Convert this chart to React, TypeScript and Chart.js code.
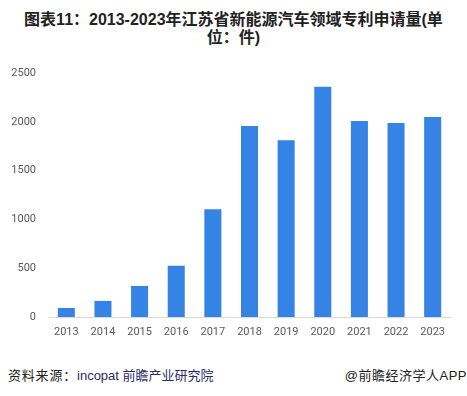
import React, { useEffect, useRef } from "react";
import { Chart, registerables } from "chart.js";

Chart.register(...registerables);

const years = ["2013", "2014", "2015", "2016", "2017", "2018", "2019", "2020", "2021", "2022", "2023"];
const patents = [92, 165, 318, 525, 1105, 1957, 1812, 2360, 2008, 1988, 2050];
const yMax = 2500;
const yStep = 500;

const titleLine1 = "图表11：2013-2023年江苏省新能源汽车领域专利申请量(单";
const titleLine2 = "位：件)";
const sourceLabel = "资料来源：";
const sourceText = "incopat 前瞻产业研究院";
const credit = "@前瞻经济学人APP";

const BAR = "#3683e6";
const TICK = "#595959";
const tickFont = { family: "Roboto, 'Liberation Sans', sans-serif", size: 11 };

export default function App() {
  const ref = useRef<HTMLCanvasElement | null>(null);

  useEffect(() => {
    if (!ref.current) return;
    const chart = new Chart(ref.current, {
      type: "bar",
      data: {
        labels: years,
        datasets: [
          {
            data: patents,
            backgroundColor: BAR,
            borderWidth: 0,
            barPercentage: 0.465,
            categoryPercentage: 1,
          },
        ],
      },
      options: {
        animation: false,
        responsive: false,
        devicePixelRatio: 1,
        layout: { padding: { top: 13, right: 16, left: 0, bottom: 0 } },
        plugins: { legend: { display: false }, tooltip: { enabled: false }, title: { display: false } },
        scales: {
          x: {
            grid: { display: false, drawTicks: false },
            border: { display: true, color: "#d9d9d9", width: 1 },
            ticks: { color: TICK, font: tickFont, padding: 9, maxRotation: 0, autoSkip: false },
            afterFit: (s: any) => {
              s.height = 33;
            },
          },
          y: {
            min: 0,
            max: yMax,
            grid: { display: false, drawTicks: false },
            border: { display: false },
            ticks: {
              stepSize: yStep,
              color: TICK,
              font: tickFont,
              padding: 12,
              callback: (v: any) => String(v),
            },
            afterFit: (s: any) => {
              s.width = 48;
              s.paddingTop = 0;
              s.paddingBottom = 0;
            },
          },
        },
      },
    });
    return () => chart.destroy();
  }, []);

  return (
    <div
      style={{
        position: "absolute",
        left: 0,
        top: 0,
        width: 467,
        height: 396,
        background: "#fff",
        overflow: "hidden",
        fontFamily: "'Liberation Sans', 'Noto Sans CJK SC', sans-serif",
      }}
    >
      <div
        style={{
          position: "absolute",
          top: 11,
          left: 0,
          width: 467,
          textAlign: "center",
          fontWeight: "bold",
          fontSize: 16,
          lineHeight: "17.5px",
          color: "#222",
          whiteSpace: "nowrap",
        }}
      >
        {titleLine1}
        <br />
        {titleLine2}
      </div>
      <canvas ref={ref} width={467} height={290} style={{ position: "absolute", left: 0, top: 60 }} />
      <div
        style={{
          position: "absolute",
          left: 8,
          top: 367,
          fontSize: 13,
          lineHeight: "18px",
          color: "#222",
          letterSpacing: 0.8,
          whiteSpace: "nowrap",
        }}
      >
        {sourceLabel}
        <span style={{ color: "#2a2a66", letterSpacing: 0 }}>{sourceText}</span>
      </div>
      <div
        style={{
          position: "absolute",
          right: 0,
          top: 367,
          fontSize: 13,
          lineHeight: "18px",
          color: "#222",
          letterSpacing: 0.5,
          whiteSpace: "nowrap",
        }}
      >
        {credit}
      </div>
    </div>
  );
}
